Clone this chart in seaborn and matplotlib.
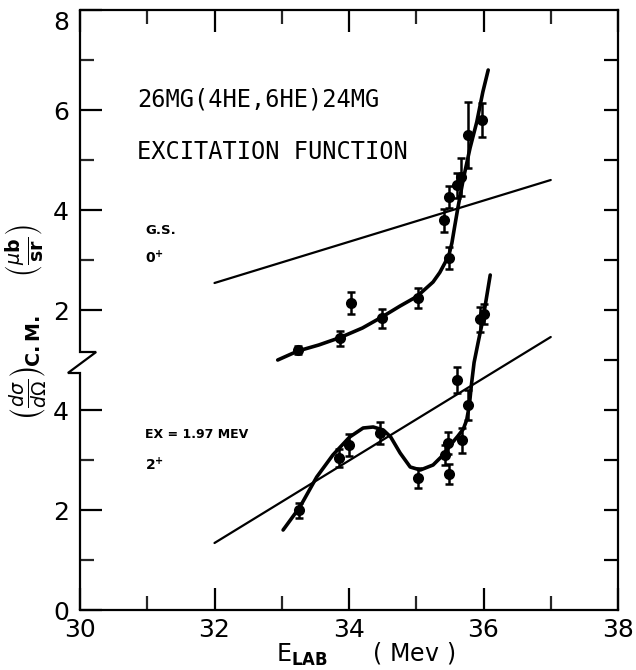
import numpy as np
import pandas as pd
import matplotlib
matplotlib.use("Agg")
import matplotlib.pyplot as plt
import matplotlib.transforms as mtransforms
import seaborn as sns

# Upper panel (ground state, 0+) is drawn on a shared axis shifted up by this amount
UPPER_OFFSET = 4.0

# Ground state 0+ : measured points (E_lab in MeV, cross section in ub/sr)
gs_energy = [33.24, 33.87, 34.03, 34.49, 35.03, 35.49, 35.41, 35.49, 35.61, 35.67, 35.77, 35.98]
gs_xsec   = [1.20, 1.44, 2.14, 1.84, 2.24, 3.04, 3.80, 4.26, 4.50, 4.66, 5.50, 5.80]
gs_err    = [0.08, 0.15, 0.22, 0.19, 0.20, 0.22, 0.23, 0.22, 0.25, 0.38, 0.66, 0.35]

# Ground state: hand-drawn trend curve and straight reference line
gs_curve_e = [32.94, 33.24, 33.55, 33.87, 34.20, 34.49, 34.76, 35.01, 35.25, 35.35,
              35.43, 35.49, 35.53, 35.57, 35.62, 35.70, 35.80, 35.90, 35.99, 36.07]
gs_curve_s = [1.00, 1.18, 1.30, 1.45, 1.64, 1.86, 2.08, 2.27, 2.56, 2.75,
              2.95, 3.12, 3.34, 3.66, 4.05, 4.62, 5.24, 5.76, 6.36, 6.80]
gs_line_e = [32.0, 37.0]
gs_line_s = [2.54, 4.60]

# Excited 2+ state: measured points
ex_energy = [33.26, 33.85, 34.00, 34.46, 35.03, 35.43, 35.47, 35.49, 35.61, 35.68, 35.77, 35.95, 36.00]
ex_xsec   = [2.00, 3.04, 3.30, 3.54, 2.64, 3.10, 3.34, 2.72, 4.60, 3.40, 4.10, 5.82, 5.92]
ex_err    = [0.15, 0.18, 0.22, 0.22, 0.20, 0.20, 0.22, 0.20, 0.26, 0.25, 0.30, 0.25, 0.20]

# Excited 2+ state: trend curve and straight reference line
ex_curve_e = [33.02, 33.27, 33.52, 33.76, 34.01, 34.21, 34.36, 34.51, 34.62, 34.76,
              34.91, 35.06, 35.25, 35.40, 35.52, 35.62, 35.70, 35.75, 35.79, 35.82,
              35.86, 35.92, 35.99, 36.10]
ex_curve_s = [1.60, 2.06, 2.66, 3.10, 3.46, 3.64, 3.66, 3.60, 3.46, 3.14,
              2.86, 2.80, 2.90, 3.10, 3.32, 3.48, 3.62, 3.80, 4.10, 4.50,
              4.95, 5.35, 5.80, 6.70]
ex_line_e = [32.0, 37.0]
ex_line_s = [1.34, 5.46]

x_ticks = [30, 32, 34, 36, 38]
y_tick_pos = [0, 2, 4, 6, 8, 10, 12]
y_tick_labels = ["0", "2", "4", "2", "4", "6", "8"]

sns.set_theme(style="white")
plt.rcParams["font.family"] = ["DejaVu Sans"]

fig = plt.figure(figsize=(6.36, 6.70), dpi=100)
ax = fig.add_axes([80 / 636, 60 / 670, 538 / 636, 600 / 670])

gs_pts = pd.DataFrame({"E": gs_energy, "S": np.array(gs_xsec) + UPPER_OFFSET,
                       "err": gs_err})
ex_pts = pd.DataFrame({"E": ex_energy, "S": ex_xsec, "err": ex_err})
gs_curve = pd.DataFrame({"E": gs_curve_e, "S": np.array(gs_curve_s) + UPPER_OFFSET})
ex_curve = pd.DataFrame({"E": ex_curve_e, "S": ex_curve_s})
gs_line = pd.DataFrame({"E": gs_line_e, "S": np.array(gs_line_s) + UPPER_OFFSET})
ex_line = pd.DataFrame({"E": ex_line_e, "S": ex_line_s})

ink = "black"

# straight reference lines
for df in (gs_line, ex_line):
    sns.lineplot(data=df, x="E", y="S", ax=ax, color=ink, lw=1.6,
                 sort=False, estimator=None)

# trend curves
for df in (gs_curve, ex_curve):
    sns.lineplot(data=df, x="E", y="S", ax=ax, color=ink, lw=2.6,
                 sort=False, estimator=None, solid_joinstyle="round",
                 solid_capstyle="round")

# error bars and data points
for df in (gs_pts, ex_pts):
    ax.errorbar(df["E"], df["S"], yerr=df["err"], fmt="none", ecolor=ink,
                elinewidth=1.8, capsize=3.0, capthick=1.8, zorder=3)
    sns.scatterplot(data=df, x="E", y="S", ax=ax, color=ink, s=64,
                    edgecolor=ink, linewidth=0, zorder=4)

ax.set_xlim(30, 38)
ax.set_ylim(0, 12)

# frame: left spine drawn by hand with a break mark between the two panels
for side in ("top", "right", "bottom"):
    ax.spines[side].set_linewidth(1.6)
    ax.spines[side].set_color(ink)
ax.spines["left"].set_visible(False)
ax.plot([30, 30, 29.82, 30.24, 30, 30], [0, 4.74, 4.74, 5.16, 5.16, 12],
        color=ink, lw=1.6, clip_on=False, solid_joinstyle="miter", zorder=5)

ax.set_xticks(x_ticks)
ax.set_xticklabels([str(t) for t in x_ticks])
ax.set_xticks([31, 33, 35, 37], minor=True)
ax.set_yticks(y_tick_pos)
ax.set_yticklabels(y_tick_labels)
ax.set_yticks([1, 3, 7, 9, 11], minor=True)

ax.tick_params(axis="x", which="major", direction="in", length=16, width=1.6,
               top=True, bottom=True, labelsize=18, pad=6, colors=ink)
ax.tick_params(axis="x", which="minor", direction="in", length=10, width=1.6,
               top=True, bottom=True)
ax.tick_params(axis="y", which="major", direction="in", length=16, width=1.6,
               left=True, right=False, labelsize=18, pad=8, colors=ink)
ax.tick_params(axis="y", which="minor", direction="in", length=10, width=1.6,
               left=True, right=False)

# the top "8" label sits a little lower than its tick
for lab in ax.get_yticklabels():
    if lab.get_position()[1] == 12:
        lab.set_transform(lab.get_transform() +
                          mtransforms.ScaledTranslation(0, -0.11, fig.dpi_scale_trans))

# right-hand ticks at every unit
ax_r = ax.twinx()
ax_r.set_ylim(0, 12)
ax_r.set_yticks(range(1, 12))
ax_r.set_yticklabels([])
ax_r.tick_params(axis="y", direction="in", length=10, width=1.6, right=True,
                 left=False, colors=ink)
for s in ax_r.spines.values():
    s.set_visible(False)
ax_r.grid(False)
ax.grid(False)

ax.set_xlabel(r"E$_{\mathbf{LAB}}$      ( Mev )", fontsize=17, color=ink)
ax.xaxis.set_label_coords(0.53, -0.052)
ax.set_ylabel(r"$\left(\frac{d\sigma}{d\Omega}\right)_{\!\mathbf{C.M.}}\ \ \ \ "
              r"\left(\frac{\mu \mathbf{b}}{\mathbf{sr}}\right)$",
              fontsize=19.5, color=ink)
ax.yaxis.set_label_coords(-0.058, 0.48)

# annotations
ax.text(30.85, 10.2, "26MG(4HE,6HE)24MG", family="DejaVu Sans Mono",
        fontsize=17, va="center", ha="left", color=ink)
ax.text(30.85, 9.16, "EXCITATION FUNCTION", family="DejaVu Sans Mono",
        fontsize=17, va="center", ha="left", color=ink)
ax.text(30.97, 7.6, "G.S.", fontsize=9.5, fontweight="bold", va="center",
        ha="left", color=ink)
ax.text(30.97, 7.04, r"0$^{\mathbf{+}}$", fontsize=10, fontweight="bold",
        va="center", ha="left", color=ink)
ax.text(30.97, 3.5, "EX = 1.97 MEV", fontsize=9, fontweight="bold",
        va="center", ha="left", color=ink)
ax.text(30.97, 2.9, r"2$^{\mathbf{+}}$", fontsize=10, fontweight="bold",
        va="center", ha="left", color=ink)

fig.savefig("out.png", dpi=100, facecolor="white")
